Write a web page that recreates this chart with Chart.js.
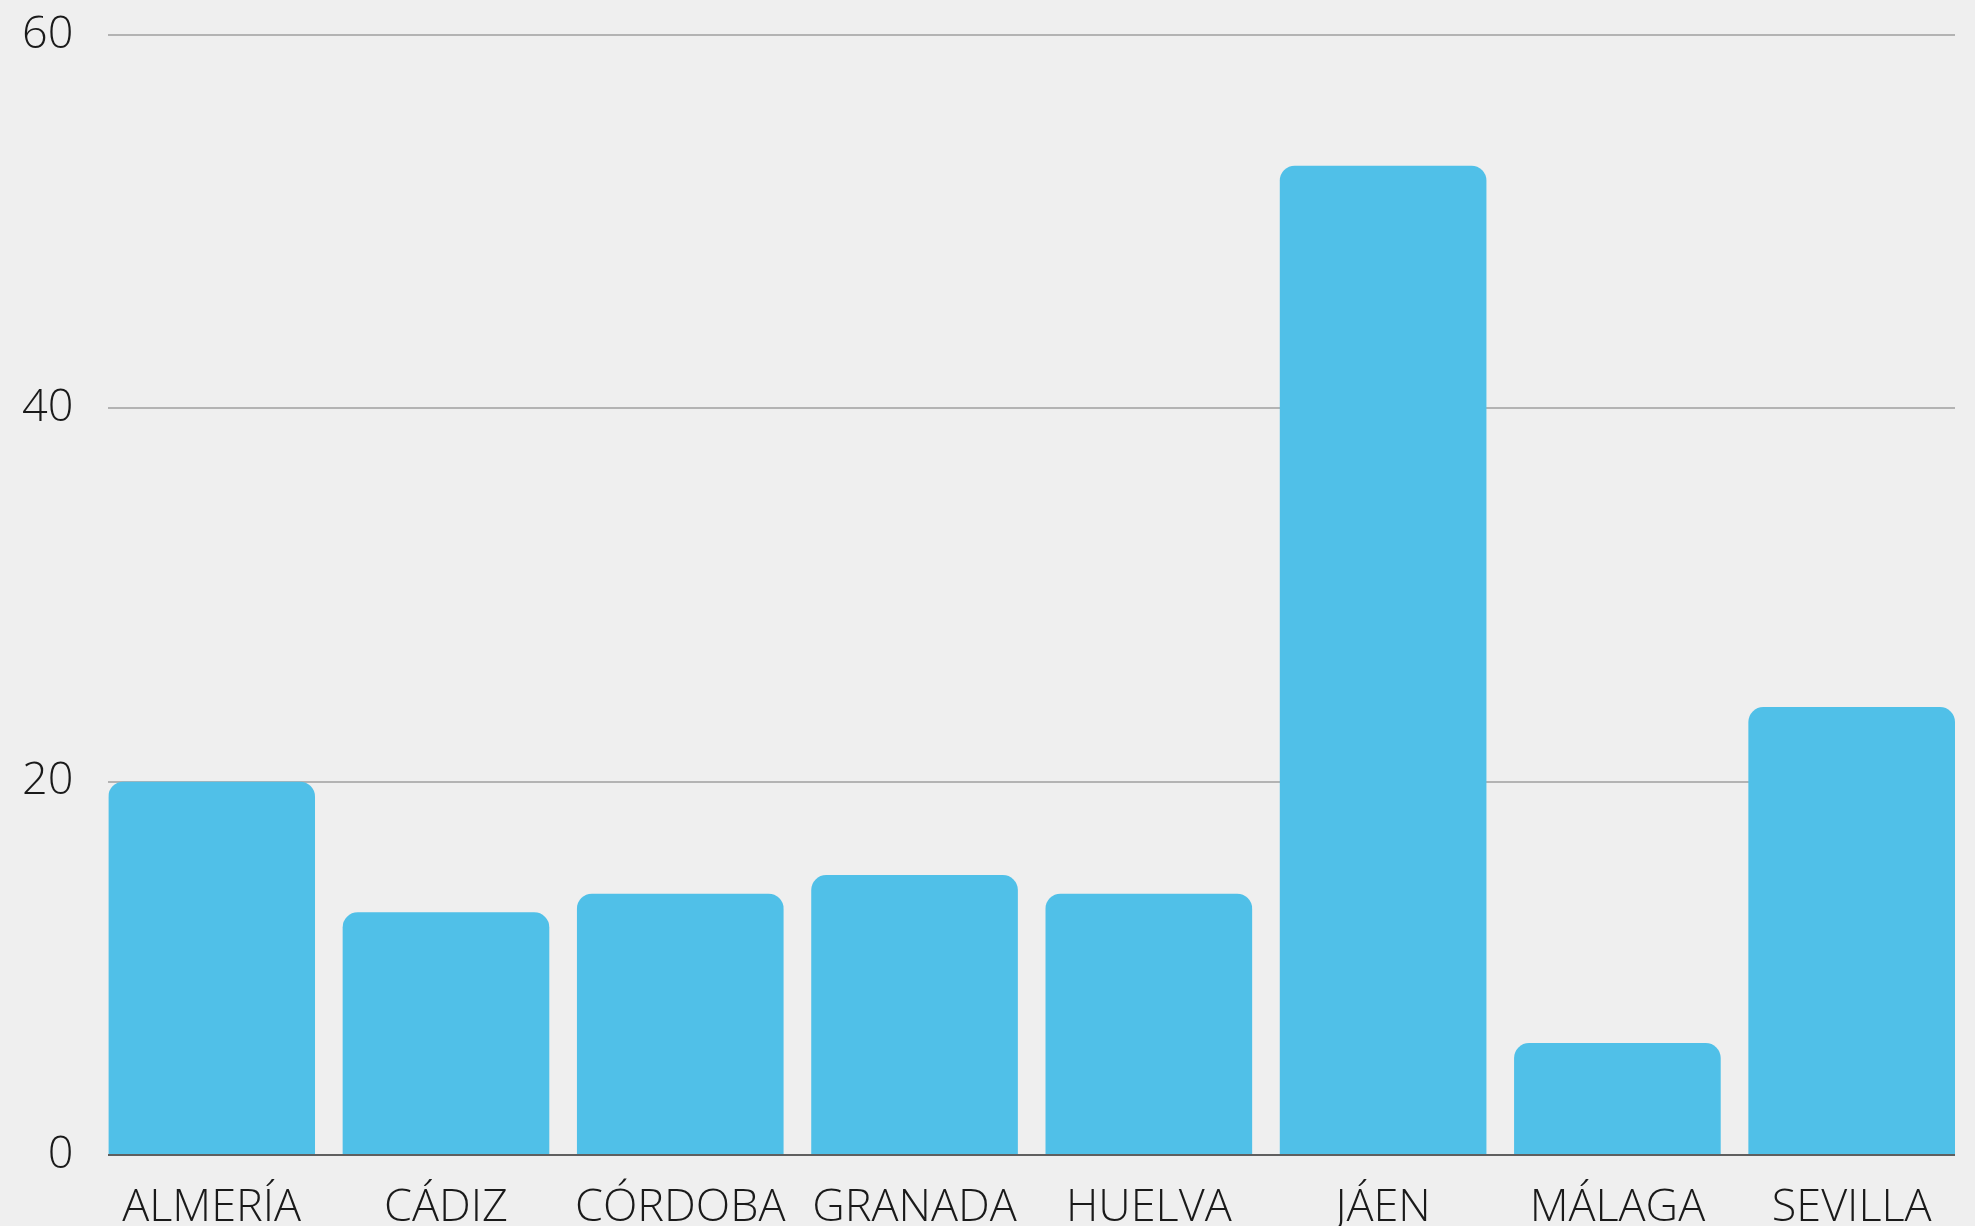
<!DOCTYPE html>
<html>
<head>
<meta charset="utf-8">
<script src="https://cdn.jsdelivr.net/npm/chart.js@4.4.1/dist/chart.umd.min.js"></script>
<style>
    html, body { margin: 0; padding: 0; background: #efefef; overflow: hidden; }
    #wrap { width: 1975px; height: 1261px; position: relative; }
</style>
</head>
<body>
<div id="wrap"><canvas id="barChart"></canvas></div>
<script>
// Provinces and values
const provinces = ['ALMERÍA', 'CÁDIZ', 'CÓRDOBA', 'GRANADA', 'HUELVA', 'JÁEN', 'MÁLAGA', 'SEVILLA'];
const values = [20, 13, 14, 15, 14, 53, 6, 24];
const yTicks = [0, 20, 40, 60];

(function() {
    'use strict';

    const barColor = '#50c0e8';
    const textColor = '#1a1a1a';
    const tickFont = { family: "'Open Sans', sans-serif", size: 45, weight: 300 };
    const yPad = 35;

    // bars sit flush with the plot edges, so the x axis runs half a bar past each end
    const half = 0.441;

    // drop the extra room chart.js keeps for the outer tick labels
    function noEdgePadding(axis) {
        axis.paddingLeft = 0;
        axis.paddingRight = 0;
        axis.paddingTop = 0;
        axis.paddingBottom = 0;
    }

    new Chart(document.getElementById('barChart'), {
        type: 'bar',
        data: {
            datasets: [{
                data: values.map((v, i) => ({ x: i, y: v })),
                backgroundColor: barColor,
                borderRadius: 15,
                borderSkipped: 'start',
                categoryPercentage: 1,
                barPercentage: 0.882
            }]
        },
        options: {
            responsive: true,
            maintainAspectRatio: false,
            animation: false,
            layout: { padding: { top: 35, left: 22, right: 20, bottom: 0 } },
            plugins: {
                legend: { display: false },
                tooltip: { enabled: false }
            },
            scales: {
                x: {
                    type: 'linear',
                    offset: false,
                    min: -half,
                    max: provinces.length - 1 + half,
                    grid: { display: false, drawTicks: false, offset: false },
                    border: { display: false },
                    afterFit: noEdgePadding,
                    ticks: {
                        stepSize: 1,
                        includeBounds: false,
                        autoSkip: false,
                        maxRotation: 0,
                        minRotation: 0,
                        padding: 26,
                        color: textColor,
                        font: tickFont,
                        callback: v => Number.isInteger(v) ? (provinces[v] || '') : ''
                    }
                },
                y: {
                    min: yTicks[0],
                    max: yTicks[yTicks.length - 1],
                    grid: {
                        drawTicks: false,
                        lineWidth: 2,
                        color: ctx => ctx.tick && ctx.tick.value === 0 ? '#5f5f5f' : '#b3b3b3'
                    },
                    border: { display: false },
                    afterBuildTicks: axis => { axis.ticks = yTicks.map(v => ({ value: v })); },
                    afterFit: axis => {
                        noEdgePadding(axis);
                        // fit() counts the tick padding on both sides of the labels
                        axis.width -= yPad;
                    },
                    ticks: {
                        padding: yPad,
                        color: textColor,
                        font: tickFont
                    }
                }
            }
        }
    });
})();
</script>
</body>
</html>
